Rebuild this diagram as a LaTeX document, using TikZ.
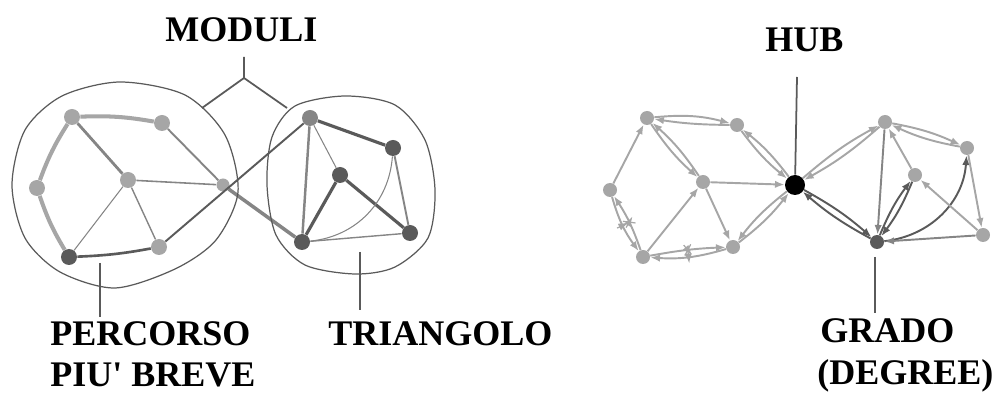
\documentclass[tikz,border=0pt]{standalone}
\usepackage{fontspec}
\setmainfont{Liberation Serif}
\usetikzlibrary{arrows.meta,decorations.markings}
\definecolor{lightg}{HTML}{A6A6A6}
\definecolor{midg}{HTML}{858585}
\definecolor{darkg}{HTML}{5A5A5A}
\tikzset{
 vtx/.style={circle,fill=lightg,inner sep=0pt,minimum size=0.32cm},
 mvtx/.style={vtx,fill=midg},
 dvtx/.style={vtx,fill=darkg},
 svtx/.style={circle,fill=lightg,inner sep=0pt,minimum size=0.28cm},
 bigtext/.style={font=\fontsize{20.5}{25}\selectfont\bfseries,inner sep=0pt,anchor=base west},
 lead/.style={draw=darkg,line width=1pt},
 blob/.style={draw=darkg,line width=0.7pt},
 arr/.style={->,draw=lightg,line width=1.1pt},
 darr/.style={->,draw=darkg,line width=1.1pt},
 tickmark/.style={postaction={decorate,decoration={markings,
   mark=at position 0.5 with {\draw[line width=0.7pt] (0,-3.5pt) -- (0,3.5pt);}}}},
 crossmark/.style={postaction={decorate,decoration={markings,
   mark=at position 0.5 with {\draw[line width=0.7pt] (-2pt,-3pt) -- (2pt,3pt) (-2pt,3pt) -- (2pt,-3pt);}}}}
}
\begin{document}
\begin{tikzpicture}[x=0.02cm,y=-0.02cm,>={Latex[length=5.5pt,width=4.2pt]}]
 \useasboundingbox (0,0) rectangle (1007,394);
 % left network
 \node[vtx] (A) at (72,117) {};
 \node[vtx] (B) at (162,123) {};
 \node[vtx] (C) at (37,188) {};
 \node[vtx] (D) at (128,180) {};
 \node[dvtx] (E) at (69,257) {};
 \node[vtx] (F) at (159,247) {};
 \node[vtx,minimum size=0.26cm] (G) at (223,185) {};
 \node[mvtx] (P) at (310,118) {};
 \node[dvtx] (Q) at (393,148) {};
 \node[dvtx] (R) at (340,175) {};
 \node[dvtx] (S) at (302,242) {};
 \node[dvtx] (T) at (410,233) {};
 \draw[lightg,line width=2.3pt] (A) to[bend left=6] (B);
 \draw[lightg,line width=2.3pt] (A) to[bend right=6] (C);
 \draw[lightg,line width=2.3pt] (C) to[bend right=6] (E);
 \draw[midg,line width=1.6pt] (A) -- (D);
 \draw[midg,line width=0.9pt] (D) -- (G);
 \draw[midg,line width=0.6pt] (D) -- (E);
 \draw[midg,line width=0.8pt] (D) -- (F);
 \draw[midg,line width=1.1pt] (B) -- (G);
 \draw[midg,line width=2pt] (G) -- (S);
 \draw[darkg,line width=1.5pt] (E) to[bend right=4] (F);
 \draw[darkg,line width=1.1pt] (F) -- (P);
 \draw[darkg,line width=1.8pt] (P) -- (Q);
 \draw[midg,line width=1.4pt] (P) -- (S);
 \draw[midg,line width=0.6pt] (P) -- (R);
 \draw[darkg,line width=1.8pt] (R) -- (S);
 \draw[darkg,line width=1.8pt] (R) -- (T);
 \draw[midg,line width=1.1pt] (Q) -- (T);
 \draw[midg,line width=0.8pt] (S) -- (T);
 \draw[midg,line width=0.6pt] (S) to[bend right=40] (Q);
 % modules
 \draw[blob] plot[smooth cycle] coordinates {(238,192) (216,240) (175,269) (115,288) (60,272) (25,238)
   (12,185) (25,130) (62,96) (120,82) (185,95) (225,135)};
 \draw[blob] plot[smooth cycle] coordinates {(435,190) (428,238) (395,267) (355,274) (305,265) (276,235)
   (267,185) (272,137) (295,106) (345,96) (395,105) (425,140)};
 % labels left
 \node[bigtext] (moduli) at (165,42) {MODULI};
 \coordinate (mtop) at (244,57);
 \coordinate (mfork) at (244,78);
 \coordinate (mleft) at (202,108);
 \coordinate (mright) at (287,108);
 \draw[lead] (mtop) -- (mfork) -- (mleft);
 \draw[lead] (mfork) -- (mright);
 \node[bigtext] (percorso) at (50,346) {PERCORSO};
 \node[bigtext] (breve) at (50,387) {PIU\textquotesingle{} BREVE};
 \coordinate (ptop) at (100,263);
 \coordinate (pbot) at (100,317);
 \draw[lead] (ptop) -- (pbot);
 \node[bigtext] (triangolo) at (328,346) {TRIANGOLO};
 \coordinate (ttop) at (360,252);
 \coordinate (tbot) at (360,310);
 \draw[lead] (ttop) -- (tbot);
 % right network
 \node[svtx] (a1) at (647,118) {};
 \node[svtx] (a2) at (737,125) {};
 \node[svtx] (a3) at (610,190) {};
 \node[svtx] (a4) at (703,182) {};
 \node[svtx] (a5) at (643,257) {};
 \node[svtx] (a6) at (733,247) {};
 \node[circle,fill=black,inner sep=0pt,minimum size=0.4cm] (hub) at (795,185) {};
 \node[svtx] (b1) at (885,122) {};
 \node[svtx] (b2) at (967,148) {};
 \node[svtx] (b3) at (915,175) {};
 \node[svtx,fill=darkg] (b4) at (877,242) {};
 \node[svtx] (b5) at (983,235) {};
 \draw[arr] (a1) to[bend left=10] (a2);
 \draw[arr] (a2) to[bend left=4] (a1);
 \draw[arr] (a3) -- (a1);
 \draw[arr] (a1) to[bend right=7] (a4);
 \draw[arr] (a4) to[bend right=7] (a1);
 \draw[arr] (a2) to[bend right=7] (hub);
 \draw[arr] (hub) to[bend right=7] (a2);
 \draw[arr] (a4) -- (hub);
 \draw[arr] (a4) -- (a6);
 \draw[arr] (a5) -- (a4);
 \draw[arr,crossmark] (a5) to[bend right=7] (a3);
 \draw[arr,tickmark] (a3) to[bend right=10] (a5);
 \draw[arr,crossmark] (a5) to[bend left=4] (a6);
 \draw[arr,tickmark] (a6) to[bend left=10] (a5);
 \draw[arr] (a6) to[bend right=7] (hub);
 \draw[arr] (hub) to[bend right=7] (a6);
 \draw[arr] (hub) to[bend left=6] (b1);
 \draw[arr] (b1) to[bend left=6] (hub);
 \draw[darr] (hub) to[bend left=6] (b4);
 \draw[darr] (b4) to[bend left=6] (hub);
 \draw[darr,draw=midg] (b1) -- (b4);
 \draw[arr] (b1) to[bend left=7] (b2);
 \draw[arr] (b2) to[bend left=7] (b1);
 \draw[arr] (b3) -- (b1);
 \draw[darr] (b4) to[bend left=7] (b3);
 \draw[darr] (b3) to[bend left=7] (b4);
 \draw[darr] (b4) to[bend right=40] (b2);
 \draw[arr] (b2) -- (b5);
 \draw[arr] (b5) -- (b3);
 \draw[darr,draw=midg] (b5) -- (b4);
 % labels right
 \node[bigtext] (hubtxt) at (765,52) {HUB};
 \coordinate (htop) at (797,77);
 \draw[lead] (htop) -- (hub);
 \node[bigtext] (grado) at (820,343) {GRADO};
 \node[bigtext] (degree) at (817,385) {(DEGREE)};
 \coordinate (gtop) at (875,257);
 \coordinate (gbot) at (875,313);
 \draw[lead] (gtop) -- (gbot);
\end{tikzpicture}
\end{document}
